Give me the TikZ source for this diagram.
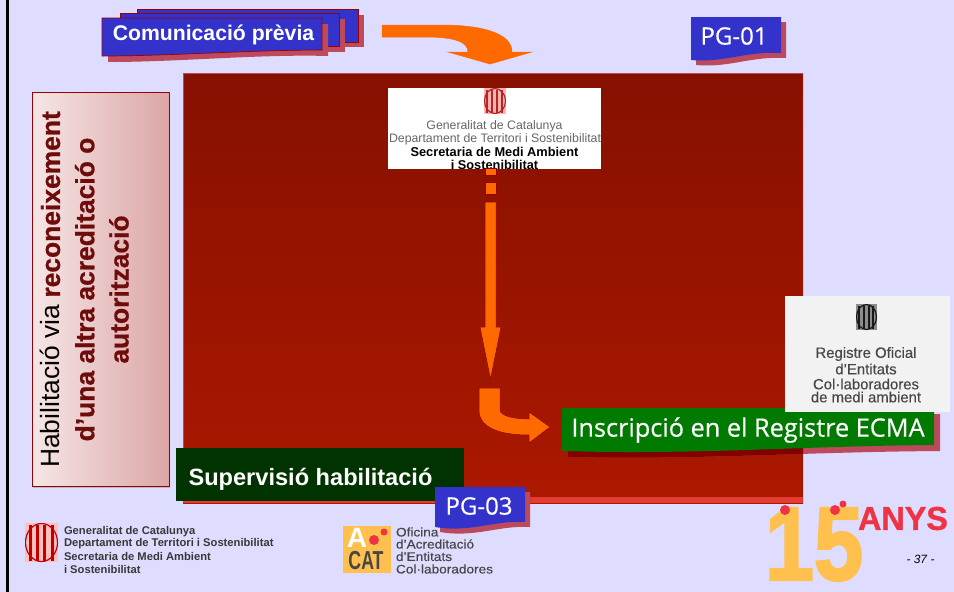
\documentclass[tikz,border=0pt]{standalone}
\usepackage{fontspec}
\setmainfont{Liberation Sans}
\newfontfamily\humanist[FakeBold=0.45]{Open Sans}
\newfontfamily\semi[FakeBold=0.3]{Liberation Sans}
\newfontfamily\heavy[UprightFont={* Bold},FakeBold=2.5]{Liberation Sans}
\newfontfamily\heavyb[UprightFont={* Bold},FakeBold=1]{Liberation Sans}
\newfontfamily\thickb[UprightFont={* Bold},FakeBold=0.7]{Liberation Sans}
\usetikzlibrary{arrows.meta}
\definecolor{bgc}{HTML}{DFDDFF}
\definecolor{bluebox}{HTML}{3333CC}
\definecolor{hatch}{HTML}{BC4A5C}
\definecolor{orangeA}{HTML}{FF6A00}
\definecolor{redtop}{HTML}{861000}
\definecolor{redbot}{HTML}{AC1800}
\definecolor{edgered}{HTML}{990000}
\definecolor{darkgreen}{HTML}{003300}
\definecolor{midgreen}{HTML}{007A00}
\definecolor{gold}{HTML}{FFC04D}
\definecolor{anysred}{HTML}{EE3344}
\definecolor{pinkL}{HTML}{F6E6E6}
\definecolor{pinkR}{HTML}{DCA6A6}
\definecolor{boldred}{HTML}{6E0C0C}
\newcommand{\fs}[1]{\fontsize{#1}{#1}\selectfont}
\newcommand{\emblem}[6]{% x1,y1,x2,y2,bg,bar
  \begin{scope}
    \clip (#1,#2) rectangle (#3,#4);
    \fill[#5] (#1,#2) rectangle (#3,#4);
    \foreach \k in {1,2,3,4}{
      \fill[#6] ({#1+(#3-#1)*(\k*2-1.1)/9+0.2},{#2+1.5}) rectangle ({#1+(#3-#1)*(\k*2-1.1)/9+(#3-#1)*0.1},{#4-1.5});
    }
    \draw[#6,line width=1.2pt] ({(#1+#3)/2},{(#2+#4)/2}) ellipse ({(#3-#1)/2-0.5} and {(#4-#2)/2-0.5});
  \end{scope}}
\tikzset{
  blockarrow/.style={fill=orangeA,draw=#1,line width=0.5pt},
  blockarrow/.default=orangeA,
  banner/.style={fill=bluebox,draw=none},
  shadowbox/.style={fill=hatch,draw=none},
  lab/.style={inner sep=0pt,outer sep=0pt,align=center},
  bantext/.style={lab,text=white,font=\bfseries\fs{21.2}},
  pgtext/.style={lab,text=white,font=\humanist\fs{24}},
  logotext/.style={lab,text=black!60,font=\fs{12.3}},
  logobold/.style={lab,text=black,font=\bfseries\fs{12.8}},
  footlogo/.style={lab,anchor=west,text=black!78,font=\bfseries\fs{11.2}},
  footacat/.style={lab,anchor=west,text=black!72,font=\semi\fs{12.4},xscale=1.1},
  reglog/.style={lab,text=black!72,font=\semi\fs{14.9}}
}
\begin{document}
\begin{tikzpicture}[x=1pt,y=-1pt]
\useasboundingbox (0,0) rectangle (954,592);
\fill[bgc] (0,0) rectangle (954,592);
\fill[black] (6,0) rectangle (9,592);

% Big panel
\shade[top color=redtop,bottom color=redbot] (183,73) rectangle (803,503);
\fill[black!10!redbot] (801.5,73) rectangle (803,503);
\fill[red!60!redbot!80!white] (183,497) rectangle (803,503);
\draw[hatch,line width=0.6pt] (183,503) -- (183,73) -- (803,73);

% Left box
\fill[black!30,opacity=.8] (33,486) rectangle (170,488);
\shade[left color=pinkL,right color=pinkR] (32,92) rectangle (169,486);
\draw[edgered,line width=0.7pt] (32,92) rectangle (169,486);
\node[lab,rotate=90,font=\fs{26.4},text=black] (habil) at (88.5,289.5) {%
  \begin{tabular}{@{}c@{}}
  Habilitació via \textcolor{boldred}{\thickb reconeixement}\\[7pt]
  \textcolor{boldred}{\thickb d’una altra acreditació o}\\[7pt]
  \textcolor{boldred}{\thickb autorització}
  \end{tabular}};

% Stacked banner
\fill[shadowbox] (143,15) rectangle (364,47);
\fill[banner,draw=edgered,line width=0.6pt] (137,9) rectangle (358,42);
\fill[shadowbox] (126,19) rectangle (345,52);
\fill[banner,draw=edgered,line width=0.6pt] (120,13) rectangle (339,46);
\fill[shadowbox] (108,24) -- (328,24) -- (328,56) .. controls (260,54) and (180,62) .. (108,62) -- cycle;
\path[banner,draw=edgered,line width=0.7pt] (102,18) -- (322,18) -- (322,50) .. controls (250,50) and (170,56) .. (102,56) -- cycle;
\node[bantext] (comunic) at (213.5,35) {Comunicació prèvia};

% Top curved arrow
\path[blockarrow] (382,25) -- (440,25) .. controls (490,25) and (512,36) .. (512,52)
  -- (532,52) -- (490,64) -- (448,52) -- (468,52) .. controls (468,42) and (455,37) .. (425,37) -- (382,37) -- cycle;

% PG-01
\fill[shadowbox] (696,22) -- (786,22) -- (786,58) .. controls (750,56) and (730,68) .. (696,65) -- cycle;
\path[banner] (691,17) -- (781,17) -- (781,53) .. controls (745,51) and (725,63) .. (691,60) -- cycle;
\node[pgtext] (pg01) at (734,36) {PG-01};

% Top logo
\begin{scope}
  \clip (388,88) rectangle (601,169);
  \fill[white] (388,88) rectangle (601,169);
  \emblem{484}{88}{506}{114}{red!30!white}{red!65!black!85!white}
  \node[logotext] (gen1) at (494.5,126) {Generalitat de Catalunya};
  \node[logotext] (gen2) at (495,139) {Departament de Territori i Sostenibilitat};
  \node[logobold] (gen3) at (494.5,151.5) {Secretaria de Medi Ambient};
  \node[logobold] (gen4) at (494.5,165) {i Sostenibilitat};
\end{scope}

% Down arrow with broken start
\path[blockarrow=edgered] (485,168) rectangle (496,175);
\path[blockarrow=edgered] (485,182) rectangle (496,194);
\path[blockarrow=edgered] (485,202) -- (496,202) -- (496,327) -- (501,327) -- (490.5,379) -- (480,327) -- (485,327) -- cycle;

% Curved lower arrow
\path[blockarrow=edgered] (479,388) -- (500,388) -- (500,410) .. controls (500,416) and (515,419) .. (529,419)
  -- (529,412) -- (550,427) -- (529,443) -- (529,435) .. controls (500,435) and (479,428) .. (479,410) -- cycle;

% Supervisio
\fill[darkgreen] (176,448) rectangle (464,501);
\node[bantext,font=\bfseries\fs{23.6}] (superv) at (310.5,479) {Supervisió habilitació};

% PG-03
\fill[shadowbox] (440,492) -- (530,492) -- (530,527) .. controls (500,525) and (475,538) .. (440,532) -- cycle;
\path[banner] (435,487) -- (525,487) -- (525,522) .. controls (495,520) and (470,533) .. (435,527) -- cycle;
\node[pgtext] (pg03) at (479,506) {PG-03};

% Inscripcio banner
\fill[shadowbox] (568,414) -- (940,414) -- (940,451) .. controls (800,452) and (700,460) .. (568,457) -- cycle;
\begin{scope}
  \clip (183,73) rectangle (803,497);
  \fill[black!15!edgered] (568,414) -- (940,414) -- (940,451) .. controls (800,452) and (700,460) .. (568,457) -- cycle;
\end{scope}
\path[fill=midgreen] (562,408) -- (934,408) -- (934,445) .. controls (800,446) and (700,455) .. (562,451) -- cycle;
\node[pgtext,font=\humanist\fs{25.3}] (inscr) at (748,430) {Inscripció en el Registre ECMA};

% Registre logo
\fill[black!5] (785,296) rectangle (950,412);
\emblem{856}{304}{877}{330}{black!45}{black!90}
\node[reglog] (reg1) at (866,354) {Registre Oficial};
\node[reglog] (reg2) at (866,369) {d’Entitats};
\node[reglog] (reg3) at (866,384) {Col·laboradores};
\node[reglog] (reg4) at (866,397) {de medi ambient};

% Foot logos
\emblem{25}{523}{58}{562}{red!25!white}{red!75!black}
\node[footlogo] (f1) at (64,532) {Generalitat de Catalunya};
\node[footlogo] (f2) at (64,544) {Departament de Territori i Sostenibilitat};
\node[footlogo] (f3) at (64,556) {Secretaria de Medi Ambient};
\node[footlogo] (f4) at (64,569) {i Sostenibilitat};

\fill[gold] (343,526) rectangle (391,573);
\node[lab,text=white,font=\bfseries\fs{28}] (acatA) at (357,538) {A};
\node[lab,text=black!72,font=\bfseries\fs{26},xscale=0.68] (acatC) at (366,561) {CAT};
\fill[anysred] (374,540) circle (5);
\fill[anysred] (384,532) circle (3.5);
\node[footacat] (o1) at (396,532) {Oficina};
\node[footacat] (o2) at (396,544) {d’Acreditació};
\node[footacat] (o3) at (396,556.5) {d’Entitats};
\node[footacat] (o4) at (396,569) {Col·laboradores};

% 15 ANYS
\node[lab,text=gold,font=\heavy\fs{104},xscale=0.85] (quinze) at (814,544.5) {15};
\fill[anysred] (785,510) circle (5);
\fill[anysred] (835,510) circle (5);
\fill[anysred] (843,504) circle (3.5);
\node[lab,text=anysred,font=\heavyb\fs{33},xscale=0.98] (anys) at (903,518.5) {ANYS};
\node[lab,font=\itshape\fs{12}] (pagen) at (920.5,559) {- 37 -};
\end{tikzpicture}
\end{document}
